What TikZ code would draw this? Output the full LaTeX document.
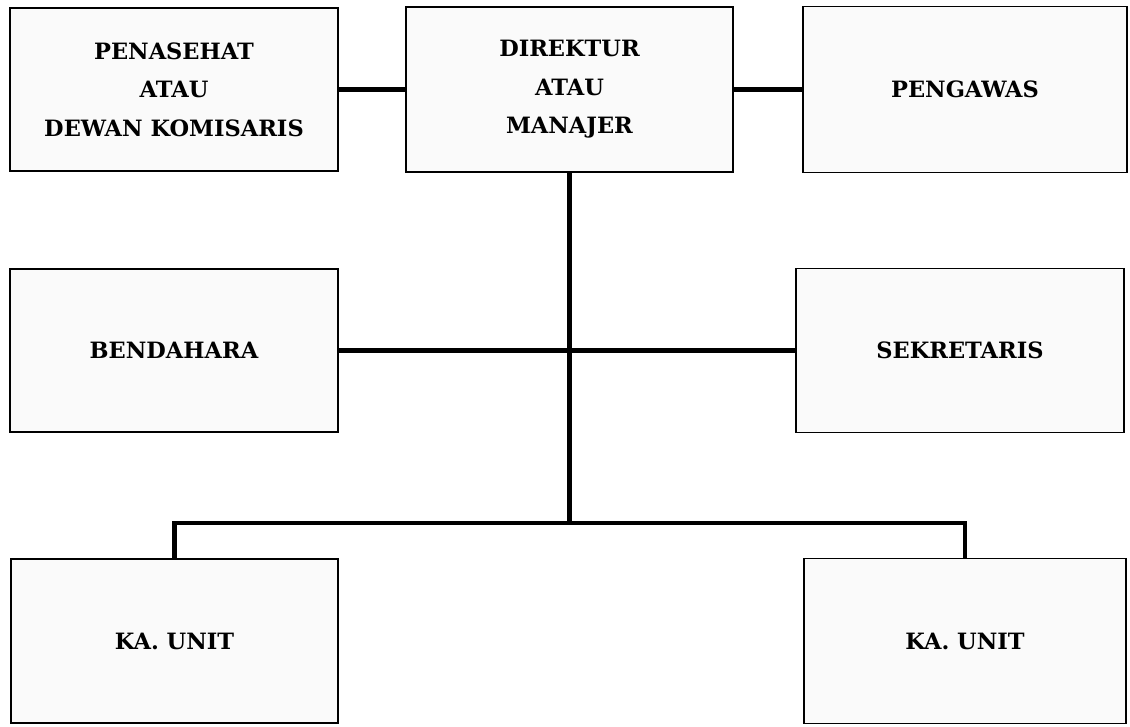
\documentclass[tikz,border=0pt]{standalone}
\usepackage{fontspec}
\setmainfont{DejaVu Serif}
\begin{document}
\begin{tikzpicture}[x=1pt,y=-1pt,
  orgbox/.style={draw=black, line width=1.8pt, fill=black!2, rectangle, align=center,
    inner sep=0pt, font=\fontsize{22.5}{38.5}\selectfont\bfseries},
  link/.style={line width=4.4pt, draw=black}]
\useasboundingbox (0,0) rectangle (1130,726);
\node[orgbox, minimum width=328pt, minimum height=163pt] (pen) at (174,89.5) {PENASEHAT\\ATAU\\DEWAN KOMISARIS};
\node[orgbox, minimum width=327pt, minimum height=165pt] (dir) at (569.5,89.5) {DIREKTUR\\ATAU\\MANAJER};
\node[orgbox, minimum width=324pt, minimum height=166pt] (pgw) at (965,89.5) {PENGAWAS};
\node[orgbox, minimum width=328pt, minimum height=163pt] (ben) at (174,350.5) {BENDAHARA};
\node[orgbox, minimum width=328pt, minimum height=164pt] (sek) at (960,350.5) {SEKRETARIS};
\node[orgbox, minimum width=327pt, minimum height=164pt] (kal) at (174.5,641) {KA. UNIT};
\node[orgbox, minimum width=322pt, minimum height=165pt] (kar) at (965,641) {KA. UNIT};
\coordinate (bus) at (569.5,523);
\draw[link] (pen.east) -- (dir.west);
\draw[link] (dir.east) -- (pgw.west);
\draw[link] (ben.east) -- (sek.west);
\draw[link] (dir.south) -- (bus);
\draw[link] (kal.north) |- (bus) -| (kar.north);
\end{tikzpicture}
\end{document}
